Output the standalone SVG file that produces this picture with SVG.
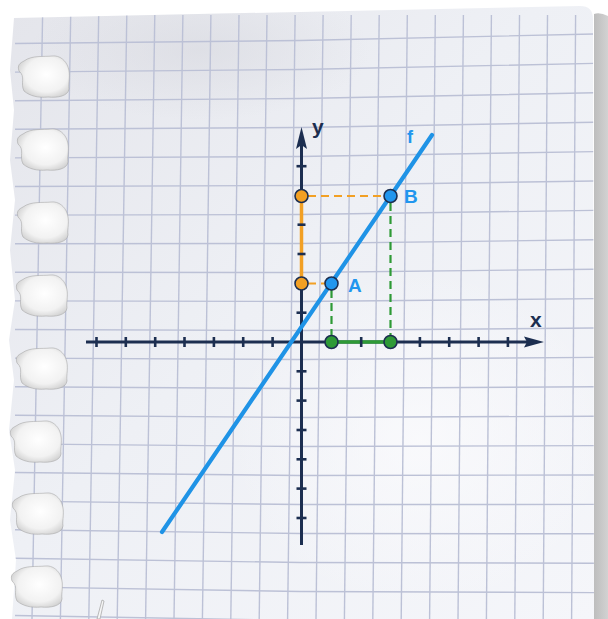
<svg xmlns="http://www.w3.org/2000/svg" width="608" height="619" viewBox="0 0 608 619">
<style>
.grid line, .grid polyline{stroke:#bcc1d6;stroke-width:1.4;fill:none}
.axis{stroke:#1c2e50;stroke-width:3;fill:none}
.tick{stroke:#1c2e50;stroke-width:2.6}
.pt{stroke:#1c2e50;stroke-width:1.6}
.lbl{font-family:"Liberation Sans",Arial,sans-serif;font-weight:bold}
</style>
<defs>
<linearGradient id="paperG" x1="0" y1="0" x2="1" y2="1">
<stop offset="0" stop-color="#e4e5eb"/>
<stop offset="0.45" stop-color="#eef0f5"/>
<stop offset="1" stop-color="#f5f6fa"/>
</linearGradient>
<linearGradient id="shadowR" x1="0" y1="0" x2="1" y2="0">
<stop offset="0" stop-color="#bdbdbd"/>
<stop offset="1" stop-color="#d2d2d2"/>
</linearGradient>
<radialGradient id="holeG" cx="0.55" cy="0.45" r="0.6">
<stop offset="0" stop-color="#ffffff"/>
<stop offset="0.7" stop-color="#f2f2f2"/>
<stop offset="1" stop-color="#d2d2d2"/>
</radialGradient>
<radialGradient id="glow" cx="0.5" cy="0.5" r="0.5">
<stop offset="0" stop-color="#fbfbfd" stop-opacity="0.8"/>
<stop offset="1" stop-color="#fbfbfd" stop-opacity="0"/>
</radialGradient>
<radialGradient id="dim" cx="0.5" cy="0.5" r="0.5">
<stop offset="0" stop-color="#d4d5dc" stop-opacity="0.5"/>
<stop offset="1" stop-color="#d4d5dc" stop-opacity="0"/>
</radialGradient>
<clipPath id="paperClip">
<path d="M14 18 L580 6 Q593 6 593 19 L594 619 L12 619 L16 560 L10 520 L15 470 L9 430 L14 380 L9 340 L15 300 L10 250 L15 200 L10 160 L14 110 L10 70 Z"/>
</clipPath>
<path id="hole" d="M-22 -16 C-14 -22 -2 -20 6 -21 C14 -22 20 -16 22 -10 C25 -2 22 6 23 12 C22 19 12 21 2 20 C-8 21 -16 19 -22 14 C-26 6 -20 0 -27 -6 C-29 -12 -26 -14 -22 -16 Z"/>
</defs>

<!-- background -->
<rect x="0" y="0" width="608" height="619" fill="#ffffff"/>
<path d="M594 14 Q600 12 608 16 L608 619 L594 619 Z" fill="url(#shadowR)"/>

<!-- paper -->
<g id="paper">
<path d="M14 18 L580 6 Q593 6 593 19 L594 619 L12 619 L16 560 L10 520 L15 470 L9 430 L14 380 L9 340 L15 300 L10 250 L15 200 L10 160 L14 110 L10 70 Z" fill="url(#paperG)"/>
<g clip-path="url(#paperClip)">
<ellipse cx="420" cy="440" rx="190" ry="170" fill="url(#glow)"/>
<ellipse cx="200" cy="50" rx="170" ry="70" fill="url(#dim)"/>
<g class="grid">
<polyline points="15,43.5 300,40.5 594,34"/>
<polyline points="15,72.1 300,69.5 594,63.4"/>
<polyline points="15,100.7 300,98.5 594,92.8"/>
<polyline points="15,129.3 300,127.5 594,122.2"/>
<polyline points="15,157.9 300,156.5 594,151.6"/>
<polyline points="15,186.5 300,185.5 594,181"/>
<polyline points="15,215.1 300,214.5 594,210.4"/>
<polyline points="15,243.7 300,243.5 594,239.8"/>
<polyline points="15,272.3 300,272.5 594,269.2"/>
<polyline points="15,300.9 300,301.5 594,298.6"/>
<polyline points="15,329.5 300,330.5 594,328"/>
<polyline points="15,358.1 300,359.5 594,357.4"/>
<polyline points="15,386.7 300,388.5 594,386.8"/>
<polyline points="15,415.3 300,417.5 594,416.2"/>
<polyline points="15,443.9 300,446.5 594,445.6"/>
<polyline points="15,472.5 300,475.5 594,475"/>
<polyline points="15,501.1 300,504.5 594,504.4"/>
<polyline points="15,529.7 300,533.5 594,533.8"/>
<polyline points="15,558.3 300,562.5 594,563.2"/>
<polyline points="15,586.9 300,591.5 594,592.6"/>
<polyline points="15,615.5 300,620.5 594,622"/>
<line x1="42.6" y1="15" x2="32" y2="619"/>
<line x1="70.7" y1="15" x2="60.4" y2="619"/>
<line x1="98.7" y1="15" x2="88.8" y2="619"/>
<line x1="126.8" y1="15" x2="117.2" y2="619"/>
<line x1="154.8" y1="15" x2="145.6" y2="619"/>
<line x1="182.9" y1="15" x2="174" y2="619"/>
<line x1="210.9" y1="15" x2="202.4" y2="619"/>
<line x1="239" y1="15" x2="230.8" y2="619"/>
<line x1="267" y1="15" x2="259.2" y2="619"/>
<line x1="295.1" y1="15" x2="287.6" y2="619"/>
<line x1="323.1" y1="15" x2="316" y2="619"/>
<line x1="351.2" y1="15" x2="344.4" y2="619"/>
<line x1="379.2" y1="15" x2="372.8" y2="619"/>
<line x1="407.3" y1="15" x2="401.2" y2="619"/>
<line x1="435.3" y1="15" x2="429.6" y2="619"/>
<line x1="463.4" y1="15" x2="458" y2="619"/>
<line x1="491.4" y1="15" x2="486.4" y2="619"/>
<line x1="519.5" y1="15" x2="514.8" y2="619"/>
<line x1="547.5" y1="15" x2="543.2" y2="619"/>
<line x1="575.6" y1="15" x2="571.6" y2="619"/>
</g>
</g>
</g>

<!-- punched holes -->
<g id="holes">
<g fill="url(#holeG)" stroke="#a4a4a4" stroke-width="1" stroke-opacity="0.55">
<use href="#hole" transform="translate(46 77)"/>
<use href="#hole" transform="translate(45 150)"/>
<use href="#hole" transform="translate(45 223)"/>
<use href="#hole" transform="translate(44 296)"/>
<use href="#hole" transform="translate(44 369)"/>
<use href="#hole" transform="translate(38 442)"/>
<use href="#hole" transform="translate(40 514)"/>
<use href="#hole" transform="translate(39 587)"/>
</g>
<path d="M97 619 L102 600 L104 601 L100 619 Z" fill="#f6f6f6" stroke="#a8a8a8" stroke-width="0.8"/>
</g>

<!-- connectors -->
<g id="connectors">
<g id="axes">
<line class="axis" x1="86" y1="342" x2="528" y2="342"/>
<polygon points="544,342 524,336.5 527,342 524,347.5" fill="#1c2e50"/>
<line class="axis" x1="301.5" y1="545" x2="301.5" y2="145"/>
<polygon points="301.5,127 296,149 301.5,145 307,149" fill="#1c2e50"/>
</g>
<line id="orange-seg" x1="301.5" y1="196" x2="301.5" y2="283.5" stroke="#f2a024" stroke-width="3.5"/>
<line id="green-seg" x1="331.5" y1="342" x2="390.5" y2="342" stroke="#2e9a36" stroke-width="3.5"/>
<g id="ticks" class="tick">
<line x1="96.5" y1="337" x2="96.5" y2="347"/>
<line x1="125.8" y1="337" x2="125.8" y2="347"/>
<line x1="155.2" y1="337" x2="155.2" y2="347"/>
<line x1="184.5" y1="337" x2="184.5" y2="347"/>
<line x1="213.9" y1="337" x2="213.9" y2="347"/>
<line x1="243.2" y1="337" x2="243.2" y2="347"/>
<line x1="272.6" y1="337" x2="272.6" y2="347"/>
<line x1="361.2" y1="337" x2="361.2" y2="347"/>
<line x1="419.9" y1="337" x2="419.9" y2="347"/>
<line x1="449.2" y1="337" x2="449.2" y2="347"/>
<line x1="478.6" y1="337" x2="478.6" y2="347"/>
<line x1="507.9" y1="337" x2="507.9" y2="347"/>
<line x1="296.5" y1="312.7" x2="306.5" y2="312.7"/>
<line x1="297.5" y1="254" x2="305.5" y2="254"/>
<line x1="297.5" y1="224.7" x2="305.5" y2="224.7"/>
<line x1="296.5" y1="166.2" x2="306.5" y2="166.2"/>
<line x1="296.5" y1="371.3" x2="306.5" y2="371.3"/>
<line x1="296.5" y1="400.6" x2="306.5" y2="400.6"/>
<line x1="296.5" y1="430" x2="306.5" y2="430"/>
<line x1="296.5" y1="459.3" x2="306.5" y2="459.3"/>
<line x1="296.5" y1="488.6" x2="306.5" y2="488.6"/>
<line x1="296.5" y1="518" x2="306.5" y2="518"/>
</g>
<g id="dashes" stroke-width="2.2" stroke-dasharray="8 5" fill="none">
<line x1="308" y1="196" x2="384" y2="196" stroke="#f2a024"/>
<line x1="308" y1="283.5" x2="326" y2="283.5" stroke="#f2a024"/>
<line x1="331.5" y1="290" x2="331.5" y2="336" stroke="#2e9a36"/>
<line x1="390.5" y1="203" x2="390.5" y2="336" stroke="#2e9a36"/>
</g>
<line id="f" x1="162" y1="532" x2="432" y2="135" stroke="#1f93e6" stroke-width="4.2" stroke-linecap="round"/>
</g>

<!-- points -->
<g id="orange-B"><circle class="pt" cx="301.5" cy="196" r="6.5" fill="#f2a024"/></g>
<g id="orange-A"><circle class="pt" cx="301.5" cy="283.5" r="6.5" fill="#f2a024"/></g>
<g id="green-A"><circle class="pt" cx="331.5" cy="342" r="6.5" fill="#2e9a36"/></g>
<g id="green-B"><circle class="pt" cx="390.5" cy="342" r="6.5" fill="#2e9a36"/></g>
<g id="point-A"><circle class="pt" cx="331.5" cy="283.5" r="6.5" fill="#2196ee"/><text class="lbl" x="348" y="292" font-size="19" fill="#2196ee">A</text></g>
<g id="point-B"><circle class="pt" cx="390.5" cy="196" r="6.5" fill="#2196ee"/><text class="lbl" x="404" y="203" font-size="19" fill="#2196ee">B</text></g>

<!-- labels -->
<g id="labels">
<text class="lbl" x="312" y="134" font-size="21" fill="#1c2e50">y</text>
<text class="lbl" x="530" y="327" font-size="21" fill="#1c2e50">x</text>
<text class="lbl" x="407" y="143" font-size="18" fill="#2196ee">f</text>
</g>
</svg>
